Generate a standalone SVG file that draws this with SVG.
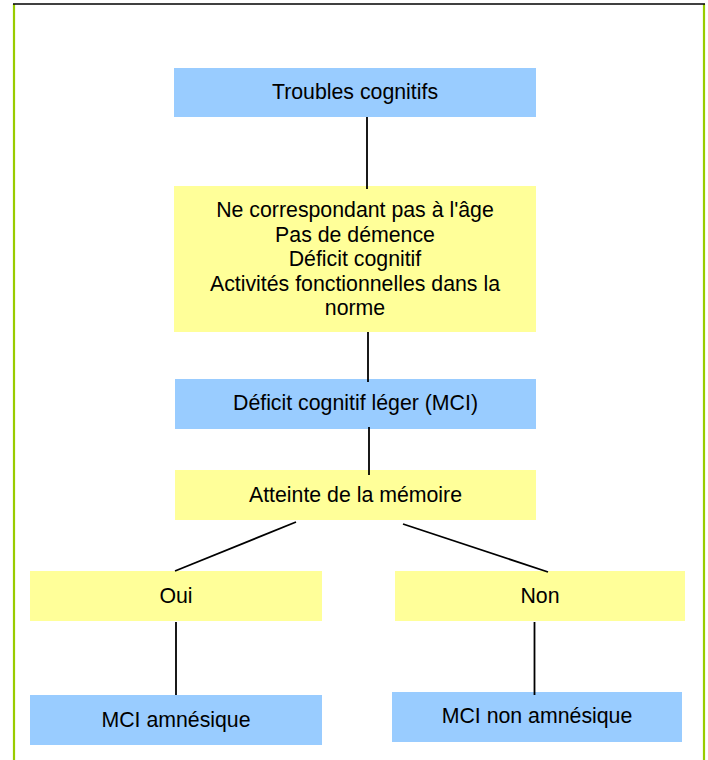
<svg xmlns="http://www.w3.org/2000/svg" width="708" height="760" viewBox="0 0 708 760">
<style>
.blue{fill:#99CCFF}
.yellow{fill:#FFFF99}
.t{font-family:"Liberation Sans",Arial,sans-serif;font-size:21.3px;fill:#000;text-anchor:middle}
.c{stroke:#000;stroke-width:1.8;fill:none}
</style>
<rect x="0" y="0" width="708" height="760" fill="#fff"/>
<g id="frame">
<line x1="14" y1="4" x2="14" y2="760" stroke="#99CC00" stroke-width="2.2"/>
<line x1="704" y1="4" x2="704" y2="760" stroke="#99CC00" stroke-width="2.2"/>
<line x1="13" y1="4" x2="705" y2="4" stroke="#000" stroke-width="1.6"/>
</g>
<g id="troubles">
<rect class="blue" x="174" y="68" width="362" height="49"/>
<text class="t" x="355" y="99">Troubles cognitifs</text>
</g>
<g id="criteres">
<rect class="yellow" x="174" y="186" width="362" height="146"/>
<text class="t" x="355" y="217">Ne correspondant pas à l'âge</text>
<text class="t" x="355" y="241.5">Pas de démence</text>
<text class="t" x="355" y="266">Déficit cognitif</text>
<text class="t" x="355" y="290.5">Activités fonctionnelles dans la</text>
<text class="t" x="355" y="315">norme</text>
</g>
<g id="mci">
<rect class="blue" x="175" y="379" width="361" height="50"/>
<text class="t" x="355.5" y="410">Déficit cognitif léger (MCI)</text>
</g>
<g id="memoire">
<rect class="yellow" x="175" y="470" width="361" height="50"/>
<text class="t" x="355.5" y="502">Atteinte de la mémoire</text>
</g>
<g id="oui">
<rect class="yellow" x="30" y="571" width="292" height="50"/>
<text class="t" x="176" y="603">Oui</text>
</g>
<g id="non">
<rect class="yellow" x="395" y="571" width="290" height="50"/>
<text class="t" x="540" y="603">Non</text>
</g>
<g id="mci-amnesique">
<rect class="blue" x="30" y="695" width="292" height="50"/>
<text class="t" x="176" y="727">MCI amnésique</text>
</g>
<g id="mci-non-amnesique">
<rect class="blue" x="392" y="692" width="290" height="50"/>
<text class="t" x="537" y="723">MCI non amnésique</text>
</g>
<g id="connectors">
<line class="c" x1="367" y1="117" x2="367" y2="189"/>
<line class="c" x1="368" y1="332" x2="368" y2="382"/>
<line class="c" x1="369" y1="427" x2="369" y2="475"/>
<line class="c" x1="296" y1="522" x2="175" y2="571"/>
<line class="c" x1="403" y1="524" x2="548" y2="572"/>
<line class="c" x1="176" y1="622" x2="176" y2="695"/>
<line class="c" x1="534.5" y1="622" x2="534.5" y2="695"/>
</g>
</svg>
